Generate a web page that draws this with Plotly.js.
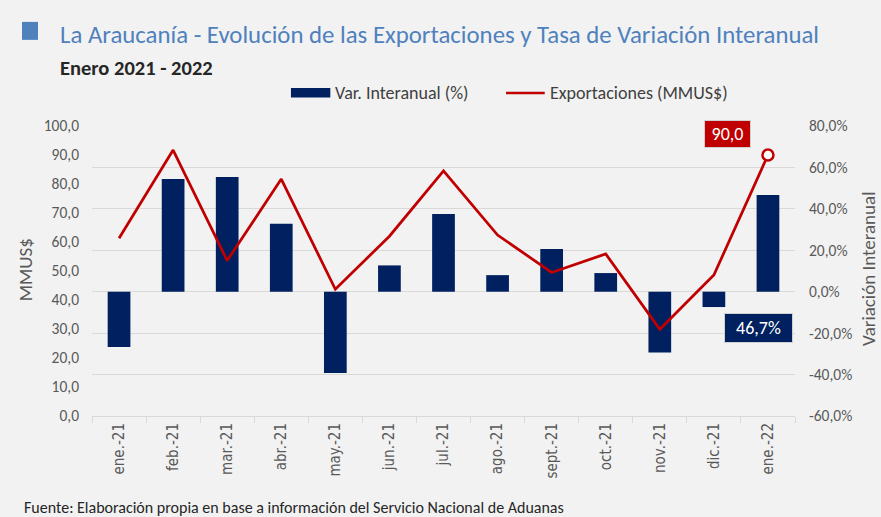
<!DOCTYPE html>
<html><head><meta charset="utf-8">
<script src="https://cdn.plot.ly/plotly-3.0.1.min.js"></script>
<style>html,body{margin:0;padding:0;background:#f2f2f2;}#chart{width:881px;height:517px;}</style>
</head><body><div id="chart"></div>
<script>
const categories = ["ene.-21","feb.-21","mar.-21","abr.-21","may.-21","jun.-21","jul.-21","ago.-21","sept.-21","oct.-21","nov.-21","dic.-21","ene.-22"];
const exportaciones = [61.3, 91.7, 53.6, 81.7, 43.7, 62.0, 84.5, 62.4, 49.5, 55.9, 29.9, 48.6, 90.0];
const variacion = [-26.7, 54.4, 55.4, 32.8, -39.3, 12.7, 37.5, 8.0, 20.6, 9.0, -29.3, -7.4, 46.7];
const leftTicks = [0,10,20,30,40,50,60,70,80,90,100];
const rightTicks = [-60,-40,-20,0,20,40,60,80];

const FONT = "Carlito, Lato, Open Sans, sans-serif";
const last = categories.length - 1;
const fmt = v => v.toFixed(1).replace(".", ",");

const traces = [
  {type:"bar", name:"Var. Interanual (%)", x:categories, y:variacion, yaxis:"y",
   marker:{color:"#002060", line:{color:"#002060", width:0}}, width:0.42, showlegend:false},
  {type:"scatter", mode:"lines", name:"Exportaciones (MMUS$)", x:categories, y:exportaciones, yaxis:"y2",
   line:{color:"#c00000", width:2.75}, showlegend:false},
  {type:"scatter", mode:"markers", showlegend:false, x:[categories[last]], y:[exportaciones[last]], yaxis:"y2",
   marker:{size:11, color:"#ffffff", line:{color:"#c00000", width:2.5}}}
];

const layout = {
  width:881, height:517,
  paper_bgcolor:"#f2f2f2", plot_bgcolor:"#f2f2f2",
  separators:",.",
  margin:{l:92, r:86, t:126, b:101},
  font:{family:FONT, color:"#595959", size:15},
  showlegend:false,
  xaxis:{type:"category", range:[-0.5, categories.length - 0.5], autorange:false, tickangle:-90,
         showline:true, linecolor:"#d9d9d9", linewidth:1,
         ticks:"outside", tickson:"boundaries", ticklen:6, tickcolor:"#d9d9d9",
         tickfont:{size:15, color:"#595959", family:"DejaVu Sans Condensed, sans-serif"},
         showgrid:false, zeroline:false, automargin:false},
  yaxis:{side:"right", range:[-60,80], tickvals:rightTicks, ticktext:rightTicks.map(v=>fmt(v)+"%"),
         showgrid:true, gridcolor:"#d9d9d9", gridwidth:1, zeroline:false, automargin:false,
         ticklabelstandoff:13, tickfont:{size:15.5, color:"#595959"}},
  yaxis2:{side:"left", overlaying:"y", range:[0,100], tickvals:leftTicks, ticktext:leftTicks.map(fmt),
          showgrid:false, zeroline:false, automargin:false, ticklabelstandoff:12,
          tickfont:{size:15.5, color:"#595959"}},
  shapes:[
    {type:"rect", xref:"paper", yref:"paper", x0:-0.0996, x1:-0.0768, y0:1.359, y1:1.297,
     fillcolor:"#4f81bd", line:{width:0}},
    {type:"rect", xref:"paper", yref:"paper", x0:0.283, x1:0.339, y0:1.098, y1:1.131,
     fillcolor:"#002060", line:{width:0}},
    {type:"line", xref:"paper", yref:"paper", x0:0.589, x1:0.644, y0:1.114, y1:1.114,
     line:{color:"#c00000", width:2.5}}
  ],
  annotations:[
    {text:"La Araucanía - Evolución de las Exportaciones y Tasa de Variación Interanual", xref:"paper", yref:"paper",
     x:-0.0484, y:1.314, xanchor:"left", yanchor:"middle", showarrow:false,
     font:{size:24.8, color:"#4f81bd", family:FONT}},
    {text:"<b>Enero 2021 - 2022</b>", xref:"paper", yref:"paper",
     x:-0.0484, y:1.2, xanchor:"left", yanchor:"middle", showarrow:false,
     font:{size:20.5, color:"#262626", family:FONT}},
    {text:"Var. Interanual (%)", xref:"paper", yref:"paper", x:0.343, y:1.114, xanchor:"left", yanchor:"middle",
     showarrow:false, font:{size:18, color:"#404040", family:FONT}},
    {text:"Exportaciones (MMUS$)", xref:"paper", yref:"paper", x:0.649, y:1.114, xanchor:"left", yanchor:"middle",
     showarrow:false, font:{size:18, color:"#404040", family:FONT}},
    {text:"MMUS$", xref:"paper", yref:"paper", x:-0.0953, y:0.503, xanchor:"center", yanchor:"middle",
     textangle:-90, showarrow:false, font:{size:19, color:"#595959", family:FONT}},
    {text:"Variación Interanual", xref:"paper", yref:"paper", x:1.1038, y:0.51, xanchor:"center", yanchor:"middle",
     textangle:-90, showarrow:false, font:{size:19, color:"#595959", family:FONT}},
    {text:"Fuente: Elaboración propia en base a información del Servicio Nacional de Aduanas", xref:"paper", yref:"paper",
     x:-0.1, y:-0.314, xanchor:"left", yanchor:"middle", showarrow:false,
     font:{size:16, color:"#262626", family:FONT}},
    {text:fmt(exportaciones[last]), x:categories[last], y:exportaciones[last], xref:"x", yref:"y2",
     showarrow:false, xshift:-40.5, yshift:21, width:43, height:24,
     bgcolor:"#c00000", bordercolor:"#d0d0d0", borderwidth:1, borderpad:1,
     font:{size:18, color:"#ffffff", family:FONT}},
    {text:fmt(variacion[last])+"%", x:categories[last], y:0, xref:"x", yref:"y",
     showarrow:false, xshift:-9.5, yshift:-36, width:65, height:26,
     bgcolor:"#002060", bordercolor:"#d0d0d0", borderwidth:1, borderpad:1,
     font:{size:18, color:"#ffffff", family:FONT}}
  ]
};

Plotly.newPlot("chart", traces, layout, {displayModeBar:false, staticPlot:true});
</script></body></html>
